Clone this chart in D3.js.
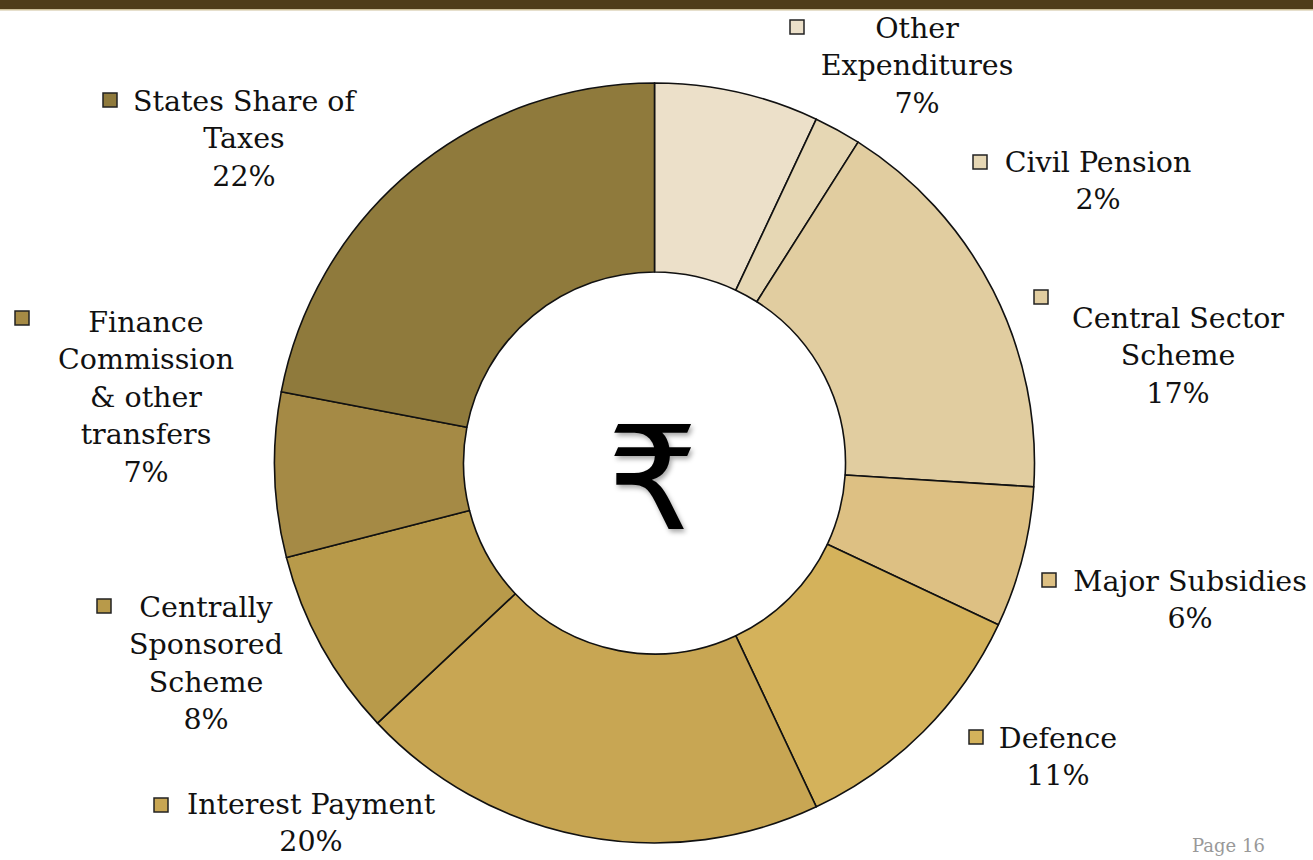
<!DOCTYPE html>
<html>
<head>
<meta charset="utf-8">
<script src="https://cdn.jsdelivr.net/npm/d3@7"></script>
<style>
  body { margin: 0; background: #fff; }
  svg { display: block; }
</style>
</head>
<body>
<div id="vis"></div>
<script>
// data
const CATEGORIES = ["Other Expenditures", "Civil Pension", "Central Sector Scheme", "Major Subsidies",
                    "Defence", "Interest Payment", "Centrally Sponsored Scheme",
                    "Finance Commission & other transfers", "States Share of Taxes"];
const VALUES = [7, 2, 17, 6, 11, 20, 8, 7, 22];
const COLORS = ["#ECE0C9", "#E6D7B4", "#E1CDA0", "#DDC083", "#D4B25B",
                "#C8A653", "#B89A4A", "#A58A45", "#8F7A3C"];
// label lines (text as it wraps in the picture)
const LABEL_LINES = [
  ["Other", "Expenditures"],
  ["Civil Pension"],
  ["Central Sector", "Scheme"],
  ["Major Subsidies"],
  ["Defence"],
  ["Interest Payment"],
  ["Centrally", "Sponsored", "Scheme"],
  ["Finance", "Commission", "& other", "transfers"],
  ["States Share of", "Taxes"]
];

// layout
const FRAME_WIDTH = 1313;
const FRAME_HEIGHT = 860;
const CX = 654.5, CY = 463;
const OUTER_R = 380, INNER_R = 191;
const LINE_H = 37.5;
// text centre x, first line y, legend square x, y
const LABEL_POS = [
  {x: 917, y: 28, sx: 797, sy: 27},
  {x: 1098, y: 162, sx: 980, sy: 162},
  {x: 1178, y: 318, sx: 1041, sy: 297},
  {x: 1190, y: 581, sx: 1049, sy: 580},
  {x: 1058, y: 738, sx: 976, sy: 737},
  {x: 311, y: 804, sx: 161, sy: 805},
  {x: 206, y: 607, sx: 104, sy: 606},
  {x: 146, y: 322, sx: 22, sy: 318},
  {x: 244, y: 101, sx: 110, sy: 100}
];

const FRAME = d3.select("#vis")
        .append("svg")
          .attr("width", FRAME_WIDTH)
          .attr("height", FRAME_HEIGHT);

// header band
FRAME.append("rect")
    .attr("x", 0).attr("y", 0)
    .attr("width", FRAME_WIDTH).attr("height", 9)
    .attr("fill", "#4F3C1A");
FRAME.append("rect")
    .attr("x", 0).attr("y", 9)
    .attr("width", FRAME_WIDTH).attr("height", 1.5)
    .attr("fill", "#CDBF9A");

const data = CATEGORIES.map((c, i) => ({name: c, value: VALUES[i], color: COLORS[i], lines: LABEL_LINES[i], pos: LABEL_POS[i]}));

const pie = d3.pie()
    .value(d => d.value)
    .sort(null);

const arc = d3.arc()
    .innerRadius(INNER_R)
    .outerRadius(OUTER_R);

const g = FRAME.append("g")
    .attr("transform", "translate(" + CX + "," + CY + ")");

g.selectAll("path")
    .data(pie(data))
    .enter()
    .append("path")
      .attr("d", arc)
      .attr("fill", d => d.data.color)
      .attr("stroke", "#111")
      .attr("stroke-width", 1.6)
      .attr("stroke-linejoin", "round");

// rupee sign in the middle
const defs = FRAME.append("defs");
const shadow = defs.append("filter").attr("id", "shadow")
    .attr("x", "-20%").attr("y", "-20%").attr("width", "140%").attr("height", "140%");
shadow.append("feDropShadow")
    .attr("dx", 2).attr("dy", 3).attr("stdDeviation", 2.5)
    .attr("flood-color", "#000").attr("flood-opacity", 0.35);

g.append("text")
    .attr("x", -2)
    .attr("y", 66)
    .attr("text-anchor", "middle")
    .attr("font-family", "'DejaVu Sans', 'Noto Sans', sans-serif")
    .attr("font-size", 144)
    .attr("fill", "#000")
    .attr("filter", "url(#shadow)")
    .text("\u20B9");

// labels
const labels = FRAME.selectAll(".lab")
    .data(data)
    .enter()
    .append("g")
      .attr("class", "lab");

labels.append("rect")
    .attr("x", d => d.pos.sx - 7)
    .attr("y", d => d.pos.sy - 7)
    .attr("width", 14)
    .attr("height", 14)
    .attr("fill", d => d.color)
    .attr("stroke", "#222")
    .attr("stroke-width", 1.5);

labels.each(function(d) {
  const t = d3.select(this).append("text")
      .attr("text-anchor", "middle")
      .attr("font-family", "'DejaVu Serif', 'Liberation Serif', serif")
      .attr("font-size", 28.5)
      .attr("fill", "#111");
  const lines = d.lines.concat([d.value + "%"]);
  lines.forEach((ln, k) => {
    t.append("tspan")
      .attr("x", d.pos.x)
      .attr("y", d.pos.y + k * LINE_H)
      .attr("dy", "0.35em")
      .text(ln);
  });
});

// page number at the bottom right
FRAME.append("text")
    .attr("x", 1192)
    .attr("y", 852)
    .attr("font-family", "'DejaVu Serif', serif")
    .attr("font-size", 18)
    .attr("fill", "#999")
    .text("Page 16");
</script>
</body>
</html>
